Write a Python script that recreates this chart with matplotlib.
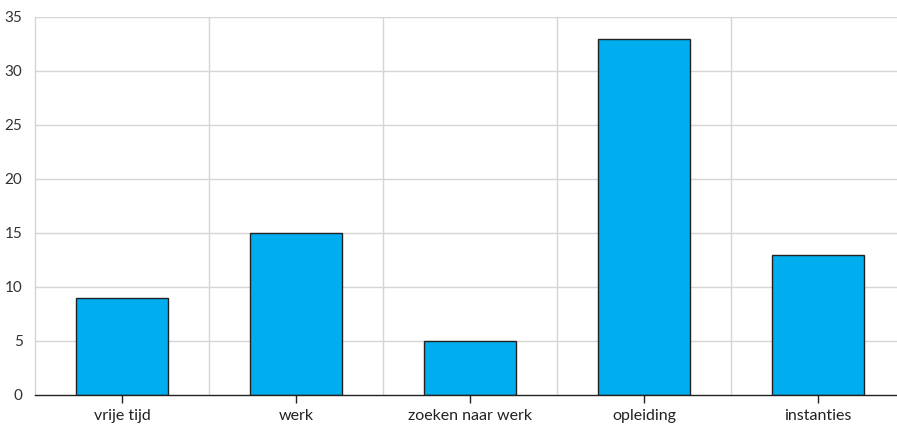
import matplotlib
matplotlib.use("Agg")
import matplotlib.pyplot as plt

categories = ["vrije tijd", "werk", "zoeken naar werk", "opleiding", "instanties"]
values = [9, 15, 5, 33, 13]
yticks = [0, 5, 10, 15, 20, 25, 30, 35]

plt.rcParams['font.family'] = ['Lato', 'DejaVu Sans']

W, H = 897, 428
fig = plt.figure(figsize=(W / 100, H / 100), dpi=100)
left, right, top, bottom = 35, 905, 17, 395
ax = fig.add_axes([left / W, 1 - bottom / H, (right - left) / W, (bottom - top) / H])

x = list(range(len(categories)))
ax.bar(x, values, width=0.525, color="#00AEEF", edgecolor="#222222", linewidth=1.0, zorder=3)

ax.set_xlim(-0.5, len(categories) - 0.5)
ax.set_ylim(0, 35)
ax.set_yticks(yticks)
ax.set_yticklabels([str(v) for v in yticks], fontsize=11, color="#333333")
ax.set_xticks(x)
ax.set_xticklabels(categories, fontsize=11.5, color="#222222")

for y in yticks[1:]:
    ax.axhline(y, color="#d5d5d5", linewidth=1.0, zorder=1)
for b in [0.5, 1.5, 2.5, 3.5]:
    ax.axvline(b, color="#d5d5d5", linewidth=1.0, zorder=1)

for s in ["top", "right"]:
    ax.spines[s].set_visible(False)
ax.spines["left"].set_color("#d5d5d5")
ax.spines["left"].set_linewidth(1.0)
ax.spines["bottom"].set_color("#222222")
ax.spines["bottom"].set_linewidth(1.0)
ax.spines["bottom"].set_zorder(4)

ax.tick_params(axis="y", length=0, pad=9)
ax.tick_params(axis="x", length=6, width=1, color="#222222", pad=4)

fig.savefig("out.png", dpi=100)
